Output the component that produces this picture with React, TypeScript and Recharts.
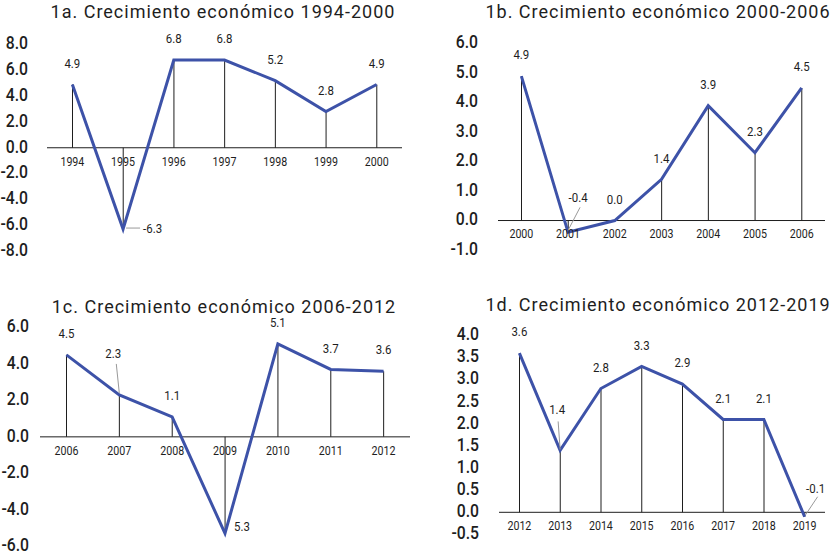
import { ComposedChart, Bar, Line, XAxis, YAxis, LabelList, ReferenceLine } from "recharts";

const years1a = ["1994", "1995", "1996", "1997", "1998", "1999", "2000"];
const growth1a = [4.9, -6.3, 6.8, 6.8, 5.2, 2.8, 4.9];
const labels1a = ["4.9", "-6.3", "6.8", "6.8", "5.2", "2.8", "4.9"];
const ticks1a = [-8, -6, -4, -2, 0, 2, 4, 6, 8];

const years1b = ["2000", "2001", "2002", "2003", "2004", "2005", "2006"];
const growth1b = [4.9, -0.4, 0.0, 1.4, 3.9, 2.3, 4.5];
const labels1b = ["4.9", "-0.4", "0.0", "1.4", "3.9", "2.3", "4.5"];
const ticks1b = [-1, 0, 1, 2, 3, 4, 5, 6];

const years1c = ["2006", "2007", "2008", "2009", "2010", "2011", "2012"];
const growth1c = [4.5, 2.3, 1.1, -5.3, 5.1, 3.7, 3.6];
const labels1c = ["4.5", "2.3", "1.1", "5.3", "5.1", "3.7", "3.6"];
const ticks1c = [-6, -4, -2, 0, 2, 4, 6];

const years1d = ["2012", "2013", "2014", "2015", "2016", "2017", "2018", "2019"];
const growth1d = [3.6, 1.4, 2.8, 3.3, 2.9, 2.1, 2.1, -0.1];
const labels1d = ["3.6", "1.4", "2.8", "3.3", "2.9", "2.1", "2.1", "-0.1"];
const ticks1d = [-0.5, 0, 0.5, 1, 1.5, 2, 2.5, 3, 3.5, 4];

const FONT = "Roboto, 'Noto Sans', sans-serif";
const BLUE = "#3d52a8";
const INK = "#1e1e1e";

// label placement for points whose label is not simply centred above
type Placement = { dx: number; dy: number; anchor?: "start" | "middle" | "end"; leader?: number[] };

const panels = [
  {
    title: "1a. Crecimiento económico 1994-2000",
    years: years1a, values: growth1a, labels: labels1a, ticks: ticks1a,
    left: 0, top: 30, height: 240, yWidth: 47, tickGap: 19,
    margin: { top: 14.5, right: 18, bottom: 19, left: 0 },
    titleX: 223, titleY: 12,
    special: { 1: { dx: 20, dy: 0, anchor: "start", leader: [3, -1, 17, -1] } } as Record<number, Placement>,
  },
  {
    title: "1b. Crecimiento económico 2000-2006",
    years: years1b, values: growth1b, labels: labels1b, ticks: ticks1b,
    left: 420, top: 30, height: 240, yWidth: 78, tickGap: 20,
    margin: { top: 13.7, right: 15, bottom: 20, left: 0 },
    titleX: 658, titleY: 12,
    special: { 1: { dx: 10, dy: -35, leader: [0, -2, 12, -25] } } as Record<number, Placement>,
  },
  {
    title: "1c. Crecimiento económico 2006-2012",
    years: years1c, values: growth1c, labels: labels1c, ticks: ticks1c,
    left: 0, top: 310, height: 241, yWidth: 40, tickGap: 11,
    margin: { top: 17.5, right: 10, bottom: 4.8, left: 0 },
    titleX: 224, titleY: 306.5,
    special: {
      1: { dx: -6, dy: -41, leader: [-3, -31, 0, -2] },
      3: { dx: 9, dy: -7, anchor: "start" },
    } as Record<number, Placement>,
  },
  {
    title: "1d. Crecimiento económico 2012-2019",
    years: years1d, values: growth1d, labels: labels1d, ticks: ticks1d,
    left: 420, top: 310, height: 241, yWidth: 79, tickGap: 20,
    margin: { top: 25.5, right: 15, bottom: 16.6, left: 0 },
    titleX: 658, titleY: 305,
    special: {
      1: { dx: -3, dy: -41, leader: [-2, -29, 0, -1] },
      7: { dx: 11, dy: -28, leader: [1, -2, 13, -20] },
    } as Record<number, Placement>,
  },
];

// condensed text: Roboto squeezed horizontally
function CText({ x, y, size, sx, anchor, weight, children }: any) {
  return (
    <text
      transform={`translate(${x},${y}) scale(${sx},1)`}
      textAnchor={anchor || "middle"}
      dominantBaseline="central"
      fontSize={size}
      fontWeight={weight || 400}
      fontFamily={FONT}
      fill={INK}
    >
      {children}
    </text>
  );
}

function Panel({ p }: { p: (typeof panels)[number] }) {
  const rows = p.years.map((year, i) => ({ year, value: p.values[i], label: p.labels[i] }));

  const pointLabel = (props: any) => {
    const { x, y, index } = props;
    const text = p.labels[index];
    const sp = p.special[index];
    if (!sp) {
      return <CText x={x} y={y - 21} size={13} sx={0.88}>{text}</CText>;
    }
    return (
      <g>
        {sp.leader && (
          <line x1={x + sp.leader[0]} y1={y + sp.leader[1]} x2={x + sp.leader[2]} y2={y + sp.leader[3]} stroke="#999" strokeWidth={1} />
        )}
        <CText x={x + sp.dx} y={y + sp.dy} size={13} sx={0.88} anchor={sp.anchor}>{text}</CText>
      </g>
    );
  };

  const yearLabel = (props: any) => {
    const { x, y, value } = props;
    return <CText x={x} y={y + 13.5} size={13} sx={0.82}>{value}</CText>;
  };

  const yTick = (props: any) => {
    const { x, y, payload } = props;
    return (
      <CText x={x} y={y - 1} size={17.5} sx={0.9} anchor="end" weight={500}>
        {Number(payload.value).toFixed(1)}
      </CText>
    );
  };

  return (
    <>
      <div
        style={{
          position: "absolute", left: p.titleX - 210, top: p.titleY - 11, width: 420, height: 22,
          lineHeight: "22px", textAlign: "center", fontSize: 18, letterSpacing: 1, color: INK, fontFamily: FONT,
          whiteSpace: "nowrap",
        }}
      >
        {p.title}
      </div>
      <div style={{ position: "absolute", left: p.left, top: p.top }}>
        <ComposedChart width={420} height={p.height} data={rows} margin={p.margin}>
          <XAxis dataKey="year" hide />
          <YAxis
            width={p.yWidth}
            domain={[p.ticks[0], p.ticks[p.ticks.length - 1]]}
            ticks={p.ticks}
            interval={0}
            axisLine={false}
            tickLine={false}
            tickSize={0}
            tickMargin={p.tickGap}
            tick={yTick}
          />
          <ReferenceLine y={0} stroke={INK} strokeWidth={1} />
          <Line dataKey={() => 0} stroke="none" dot={false} isAnimationActive={false}>
            <LabelList dataKey="year" content={yearLabel} />
          </Line>
          <Bar dataKey="value" barSize={1} fill={INK} isAnimationActive={false} />
          <Line type="linear" dataKey="value" stroke={BLUE} strokeWidth={3} dot={false} isAnimationActive={false}>
            <LabelList dataKey="label" content={pointLabel} />
          </Line>
        </ComposedChart>
      </div>
    </>
  );
}

export default function App() {
  return (
    <div style={{ position: "absolute", left: 0, top: 0, width: 840, height: 551, background: "#fff", fontFamily: FONT }}>
      {panels.map((p) => (
        <Panel key={p.title} p={p} />
      ))}
    </div>
  );
}
